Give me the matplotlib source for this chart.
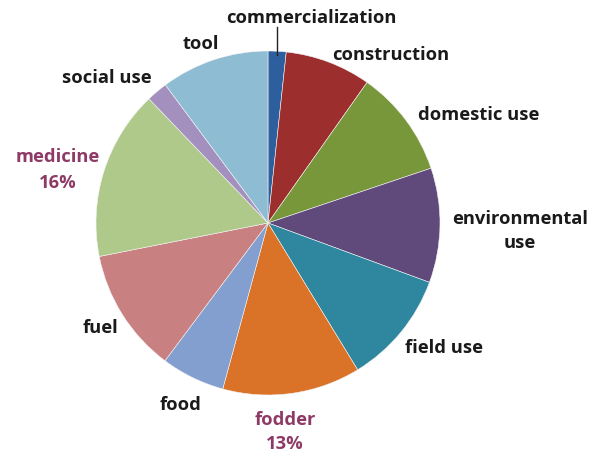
import matplotlib
matplotlib.use("Agg")
import matplotlib.pyplot as plt

categories = ["commercialization", "construction", "domestic use", "environmental use",
              "field use", "fodder", "food", "fuel", "medicine", "social use", "tool"]
values = [1.7, 8.1, 10.1, 10.8, 10.7, 13.0, 6.0, 11.7, 16.0, 2.0, 10.2]
colors = ["#2D5E9E", "#9C2E2E", "#78973A", "#604A7B", "#2E879E", "#DA7228",
          "#839FD0", "#C98080", "#AFC98A", "#A390BE", "#8EBDD3"]

W, H = 595, 460
fig = plt.figure(figsize=(W / 100, H / 100), dpi=100)
ax = fig.add_axes([0, 0, 1, 1])

def P(x, y):
    return (x, H - y)

ax.pie(values, colors=colors, startangle=90, counterclock=False,
       center=P(268, 224), radius=172,
       wedgeprops=dict(edgecolor="#f4f4f4", linewidth=0.4))
ax.set_xlim(0, W)
ax.set_ylim(0, H)
ax.set_aspect("equal")
ax.axis("off")

font = dict(family="Open Sans", fontweight="bold", fontsize=13.2)
dark = "#1a1a1a"
accent = "#8E3A66"

labels_pos = {
    "commercialization": (311, 18),
    "construction": (391, 55),
    "domestic use": (479, 115),
    "environmental use": (520, 231),
    "field use": (444, 348),
    "food": (181, 405),
    "fuel": (100, 328),
    "social use": (107, 78),
    "tool": (201, 44),
}
for cat in categories:
    if cat in labels_pos:
        x, y = labels_pos[cat]
        txt = "environmental\nuse" if cat == "environmental use" else cat
        ax.text(*P(x, y), txt, ha="center", va="center", color=dark,
                linespacing=1.4, **font)

pct = {c: v / sum(values) * 100 for c, v in zip(categories, values)}
ax.text(*P(285, 432), f"fodder\n{pct['fodder']:.0f}%", ha="center", va="center",
        color=accent, linespacing=1.4, **font)
ax.text(*P(58, 170), f"medicine\n{pct['medicine']:.0f}%", ha="center", va="center",
        color=accent, linespacing=1.5, **font)

# leader line for commercialization
ax.plot([277, 277], [H - 56, H - 28], color="#222222", linewidth=1)

fig.savefig("out.png", dpi=100)
